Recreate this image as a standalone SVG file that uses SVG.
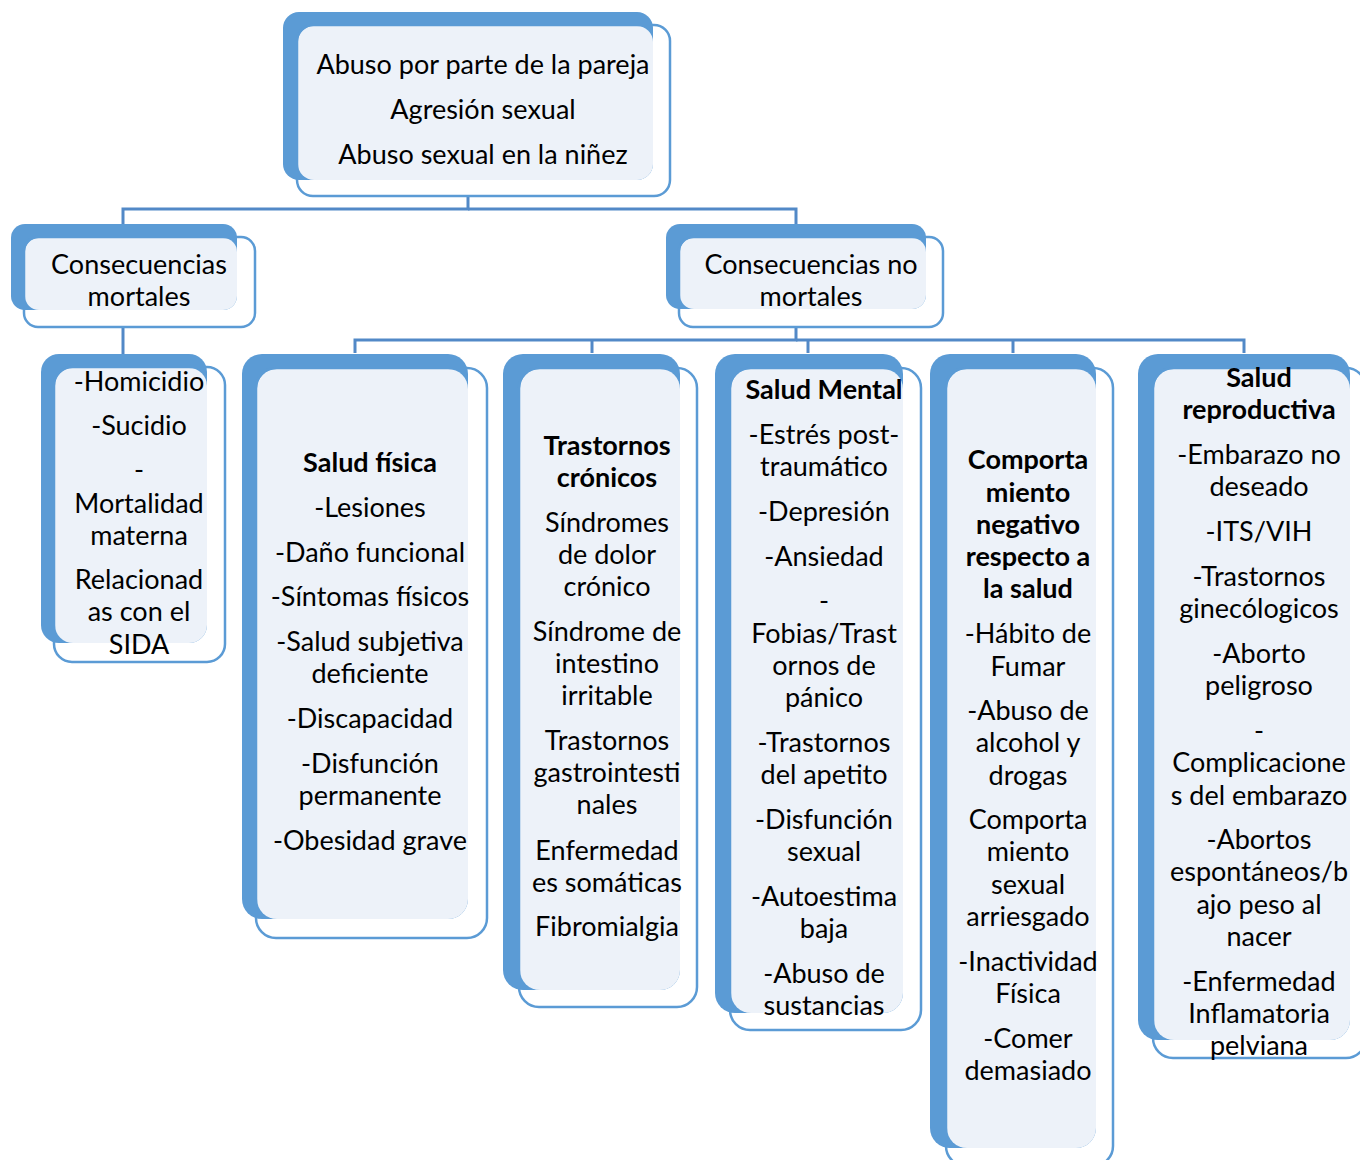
<svg xmlns="http://www.w3.org/2000/svg" width="1360" height="1160" viewBox="0 0 1360 1160">
<style>
.back{fill:#5B9BD5;}
.light{fill:#EDF2F9;}
.front{fill:none;stroke:#5B9BD5;stroke-width:2.5;}
text{font-family:Lato,"Liberation Sans",sans-serif;font-size:27px;fill:#000;text-anchor:middle;}
.b{font-weight:bold;}
.conn{fill:none;stroke:#5289C7;stroke-width:3;}
</style>
<rect width="1360" height="1160" fill="#fff"/>
<g id="connectors">
<polyline class="conn" points="468,196 468,209 123,209 123,224"/>
<polyline class="conn" points="468,209 796,209 796,224"/>
<line class="conn" x1="123" y1="327" x2="123" y2="354"/>
<polyline class="conn" points="796,327 796,340 355,340 355,353"/>
<polyline class="conn" points="796,340 1244,340 1244,353"/>
<line class="conn" x1="592" y1="340" x2="592" y2="353"/>
<line class="conn" x1="808" y1="340" x2="808" y2="353"/>
<line class="conn" x1="1013" y1="340" x2="1013" y2="353"/>
</g>
<g id="n-top">
<rect class="back" x="283" y="12" width="370" height="168" rx="16"/>
<rect class="light" x="298" y="26" width="355" height="154" rx="16"/>
<rect class="front" x="297" y="25" width="373" height="171" rx="16"/>
<text x="483" y="74">Abuso por parte de la pareja</text>
<text x="483" y="119">Agresión sexual</text>
<text x="483" y="164">Abuso sexual en la niñez</text>
</g>
<g id="n-mortales">
<rect class="back" x="11" y="224" width="226" height="86" rx="14"/>
<rect class="light" x="25" y="238" width="212" height="72" rx="14"/>
<rect class="front" x="24" y="237" width="231" height="90" rx="14"/>
<text x="139" y="274">Consecuencias</text>
<text x="139" y="306">mortales</text>
</g>
<g id="n-nomortales">
<rect class="back" x="666" y="224" width="260" height="85" rx="14"/>
<rect class="light" x="680" y="238" width="246" height="71" rx="14"/>
<rect class="front" x="679" y="237" width="264" height="90" rx="14"/>
<text x="811" y="274">Consecuencias no</text>
<text x="811" y="306">mortales</text>
</g>
<g id="n-homicidio">
<rect class="back" x="41" y="354" width="166" height="289" rx="18"/>
<rect class="light" x="55" y="368" width="152" height="275" rx="18"/>
<rect class="front" x="54" y="367" width="171" height="295" rx="18"/>
<text x="139" y="391">-Homicidio</text>
<text x="139" y="435">-Sucidio</text>
<text x="139" y="479">-</text>
<text x="139" y="513">Mortalidad</text>
<text x="139" y="545">materna</text>
<text x="139" y="589">Relacionad</text>
<text x="139" y="621">as con el</text>
<text x="139" y="654">SIDA</text>
</g>
<g id="n-fisica">
<rect class="back" x="242" y="354" width="226" height="565" rx="20"/>
<rect class="light" x="257" y="369" width="211" height="550" rx="20"/>
<rect class="front" x="256" y="368" width="231" height="570" rx="20"/>
<text class="b" x="370" y="472">Salud física</text>
<text x="370" y="517">-Lesiones</text>
<text x="370" y="562">-Daño funcional</text>
<text x="370" y="606">-Síntomas físicos</text>
<text x="370" y="651">-Salud subjetiva</text>
<text x="370" y="683">deficiente</text>
<text x="370" y="728">-Discapacidad</text>
<text x="370" y="773">-Disfunción</text>
<text x="370" y="805">permanente</text>
<text x="370" y="850">-Obesidad grave</text>
</g>
<g id="n-cronicos">
<rect class="back" x="503" y="354" width="177" height="636" rx="20"/>
<rect class="light" x="520" y="369" width="160" height="621" rx="20"/>
<rect class="front" x="519" y="368" width="178" height="639" rx="20"/>
<text class="b" x="607" y="455">Trastornos</text>
<text class="b" x="607" y="487">crónicos</text>
<text x="607" y="532">Síndromes</text>
<text x="607" y="564">de dolor</text>
<text x="607" y="596">crónico</text>
<text x="607" y="641">Síndrome de</text>
<text x="607" y="673">intestino</text>
<text x="607" y="705">irritable</text>
<text x="607" y="750">Trastornos</text>
<text x="607" y="782">gastrointesti</text>
<text x="607" y="814">nales</text>
<text x="607" y="860">Enfermedad</text>
<text x="607" y="892">es somáticas</text>
<text x="607" y="936">Fibromialgia</text>
</g>
<g id="n-mental">
<rect class="back" x="715" y="354" width="188" height="659" rx="20"/>
<rect class="light" x="731" y="369" width="172" height="644" rx="20"/>
<rect class="front" x="730" y="368" width="191" height="662" rx="20"/>
<text class="b" x="824" y="399">Salud Mental</text>
<text x="824" y="444">-Estrés post-</text>
<text x="824" y="476">traumático</text>
<text x="824" y="521">-Depresión</text>
<text x="824" y="566">-Ansiedad</text>
<text x="824" y="610">-</text>
<text x="824" y="643">Fobias/Trast</text>
<text x="824" y="675">ornos de</text>
<text x="824" y="707">pánico</text>
<text x="824" y="752">-Trastornos</text>
<text x="824" y="784">del apetito</text>
<text x="824" y="829">-Disfunción</text>
<text x="824" y="861">sexual</text>
<text x="824" y="906">-Autoestima</text>
<text x="824" y="938">baja</text>
<text x="824" y="983">-Abuso de</text>
<text x="824" y="1015">sustancias</text>
</g>
<g id="n-comportamiento">
<rect class="back" x="930" y="354" width="166" height="794" rx="20"/>
<rect class="light" x="947" y="369" width="149" height="779" rx="20"/>
<rect class="front" x="946" y="368" width="167" height="798" rx="20"/>
<text class="b" x="1028" y="469">Comporta</text>
<text class="b" x="1028" y="502">miento</text>
<text class="b" x="1028" y="534">negativo</text>
<text class="b" x="1028" y="566">respecto a</text>
<text class="b" x="1028" y="598">la salud</text>
<text x="1028" y="643">-Hábito de</text>
<text x="1028" y="676">Fumar</text>
<text x="1028" y="720">-Abuso de</text>
<text x="1028" y="752">alcohol y</text>
<text x="1028" y="785">drogas</text>
<text x="1028" y="829">Comporta</text>
<text x="1028" y="861">miento</text>
<text x="1028" y="894">sexual</text>
<text x="1028" y="926">arriesgado</text>
<text x="1028" y="971">-Inactividad</text>
<text x="1028" y="1003">Física</text>
<text x="1028" y="1048">-Comer</text>
<text x="1028" y="1080">demasiado</text>
</g>
<g id="n-reproductiva">
<rect class="back" x="1138" y="354" width="212" height="686" rx="20"/>
<rect class="light" x="1154" y="369" width="196" height="671" rx="20"/>
<rect class="front" x="1153" y="368" width="213" height="690" rx="20"/>
<text class="b" x="1259" y="387">Salud</text>
<text class="b" x="1259" y="419">reproductiva</text>
<text x="1259" y="464">-Embarazo no</text>
<text x="1259" y="496">deseado</text>
<text x="1259" y="541">-ITS/VIH</text>
<text x="1259" y="586">-Trastornos</text>
<text x="1259" y="618">ginecólogicos</text>
<text x="1259" y="663">-Aborto</text>
<text x="1259" y="695">peligroso</text>
<text x="1259" y="740">-</text>
<text x="1259" y="772">Complicacione</text>
<text x="1259" y="805">s del embarazo</text>
<text x="1259" y="849">-Abortos</text>
<text x="1259" y="881">espontáneos/b</text>
<text x="1259" y="914">ajo peso al</text>
<text x="1259" y="946">nacer</text>
<text x="1259" y="991">-Enfermedad</text>
<text x="1259" y="1023">Inflamatoria</text>
<text x="1259" y="1055">pelviana</text>
</g>
</svg>
